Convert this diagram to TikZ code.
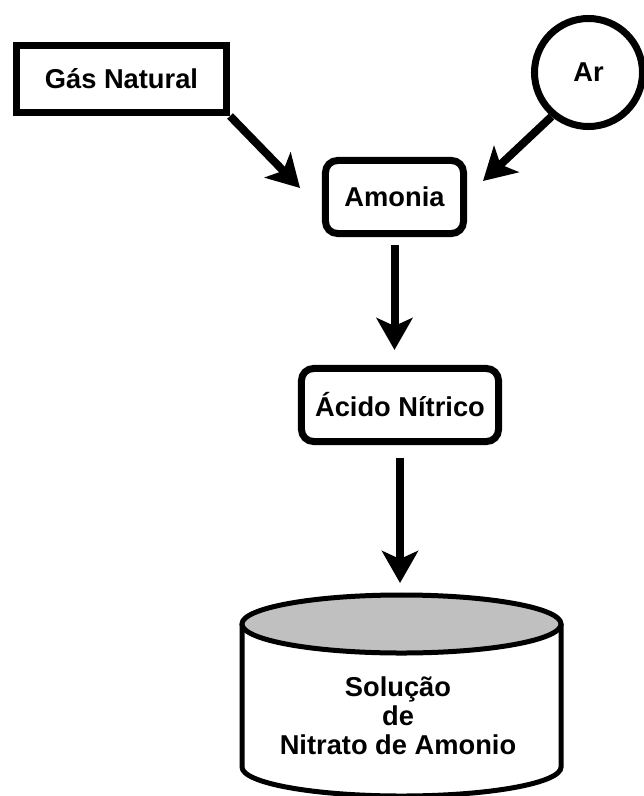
\documentclass[tikz,border=0pt]{standalone}
\usepackage{fontspec}
\setmainfont{Liberation Sans}
\usetikzlibrary{arrows.meta,calc}

\definecolor{cinzaTampa}{RGB}{192,192,192}

\begin{document}
\begin{tikzpicture}[x=0.025cm, y=-0.025cm,
    texto/.style={font=\bfseries\fontsize{19.4}{20.6}\selectfont, text=black},
    caixa/.style={texto, draw, line width=0.175cm, inner sep=0pt},
    caixaRedonda/.style={caixa, rounded corners=0.3cm},
    seta/.style={line width=0.2cm, -{Stealth[length=0.8cm, width=0.9cm, inset=0.2cm]}}]
    \useasboundingbox (0,0) rectangle (644,796);

    % entradas
    \node[caixa, minimum width=5.25cm, minimum height=1.675cm] (gas) at (121.5,79) {Gás Natural};
    \node[caixa, circle, minimum size=2.7cm] (ar) at (588.5,72.5) {Ar};

    % processos
    \node[caixaRedonda, minimum width=3.45cm, minimum height=1.825cm] (amonia) at (394.5,197) {Amonia};
    \node[caixaRedonda, minimum width=4.925cm, minimum height=1.825cm] (acido) at (400,405) {Ácido Nítrico};

    % tanque
    \draw[line width=0.125cm, fill=white] (242,624) -- (242,767)
        arc[start angle=180, end angle=360, x radius=3.9875cm, y radius=0.725cm] -- (561,624);
    \draw[line width=0.125cm, fill=cinzaTampa] (401.5,624) ellipse [x radius=3.9875cm, y radius=0.725cm];
    \coordinate (topo) at (401.5,593);
    \node[texto, align=center] (tanque) at (398,716) {Solução\\de\\Nitrato de Amonio};

    % setas
    \coordinate (chegaGas) at (300,188);
    \coordinate (chegaAr) at (483,181);
    \draw[seta] (gas.south east) -- (chegaGas);
    \draw[seta] (ar.230) -- (chegaAr);
    \draw[seta, shorten <=0.2cm, shorten >=0.375cm] (amonia.south) -- (amonia.south |- acido.north);
    \draw[seta, shorten <=0.325cm, shorten >=0.25cm] (acido.south) -- (acido.south |- topo);
\end{tikzpicture}
\end{document}
